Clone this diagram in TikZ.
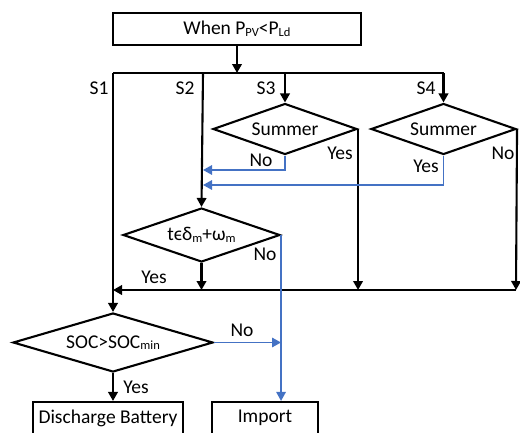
\documentclass[tikz,border=0pt]{standalone}
\usepackage{fontspec}
\setmainfont{Carlito}
\usetikzlibrary{arrows.meta,shapes.geometric}
\newcommand\sbs[1]{\raisebox{-1.5pt}{\fontsize{12.5}{13}\selectfont #1}}
\definecolor{bluel}{RGB}{68,114,196}
\begin{document}
\begin{tikzpicture}[x=1pt,y=-1pt,
  font=\fontsize{19.5}{22}\selectfont,
  ln/.style={line width=2.1pt},
  bl/.style={line width=1.5pt,draw=bluel},
  arr/.style={-{Triangle[length=9pt,width=9.5pt]}},
  box/.style={draw,line width=2.1pt,rectangle,inner sep=0pt},
  dia/.style={draw,line width=2.1pt,diamond,aspect=3,inner sep=0pt},
  lab/.style={inner sep=0pt}]
\useasboundingbox (0,0) rectangle (520,432);
\node[box,minimum width=248pt,minimum height=32pt] (top) at (237,29) {When P\sbs{PV}<P\sbs{Ld}};
\node[dia,minimum width=144pt,minimum height=51pt] (sum1) at (285,129) {Summer};
\node[dia,minimum width=145pt,minimum height=51pt] (sum2) at (443.5,129) {Summer};
\node[dia,minimum width=157pt,minimum height=54pt] (t) at (201.5,235) {t\char"03F5δ\sbs{m}+ω\sbs{m}};
\node[dia,minimum width=200pt,minimum height=59pt] (soc) at (113,342.5) {SOC>SOC\sbs{min}};
\node[box,minimum width=150pt,minimum height=32pt] (dis) at (108,418) {Discharge Battery};
\node[box,minimum width=106pt,minimum height=32pt] (imp) at (265,418) {Import};
\coordinate (s1) at (113,73);
\coordinate (s2) at (203,73);
\coordinate (s3) at (285,73);
\coordinate (s4) at (443.5,73);
\coordinate (j) at (237,73);
\coordinate (m1) at (113,290);
\coordinate (m4) at (516,290);
\coordinate (b1) at (203,170);
\coordinate (b2) at (203,185);
% labels
\node[lab] (l1) at (99,88) {S1};
\node[lab] (l2) at (185,88) {S2};
\node[lab] (l3) at (266,88) {S3};
\node[lab] (l4) at (426,88) {S4};
\node[lab] (n1) at (261,160) {No};
\node[lab] (y1) at (340,153) {Yes};
\node[lab] (y2) at (426,166) {Yes};
\node[lab] (n2) at (503,153) {No};
\node[lab] (n3) at (265,254) {No};
\node[lab] (y3) at (154,277) {Yes};
\node[lab] (n4) at (242,330) {No};
\node[lab] (y4) at (136,387) {Yes};
% connectors
\draw[ln,arr] (top) -- (j);
\draw[ln] (s1) -- (s4);
\draw[ln,arr] (s1) -- (soc.north);
\draw[ln,arr] (s2) -- (t.north);
\draw[ln,arr] (s3) -- (sum1.north);
\draw[ln,arr] (s4) -- (sum2.north);
\draw[ln,arr] (m4) -- (m1);
\draw[ln,arr] (t.south) -- (t.south |- m1);
\draw[ln,arr] (sum1.east) -- (sum1.east |- m1);
\draw[ln,arr] (sum2.east) -- (m4);
\draw[bl,arr] (sum1.south) |- (b1);
\draw[bl,arr] (sum2.south) |- (b2);
\draw[bl,arr] (t.east) -- (t.east |- imp.north);
\draw[bl,arr] (soc.east) -- (soc.east -| t.east);
\draw[ln,arr] (soc.south) -- (soc.south |- dis.north);
\end{tikzpicture}
\end{document}
